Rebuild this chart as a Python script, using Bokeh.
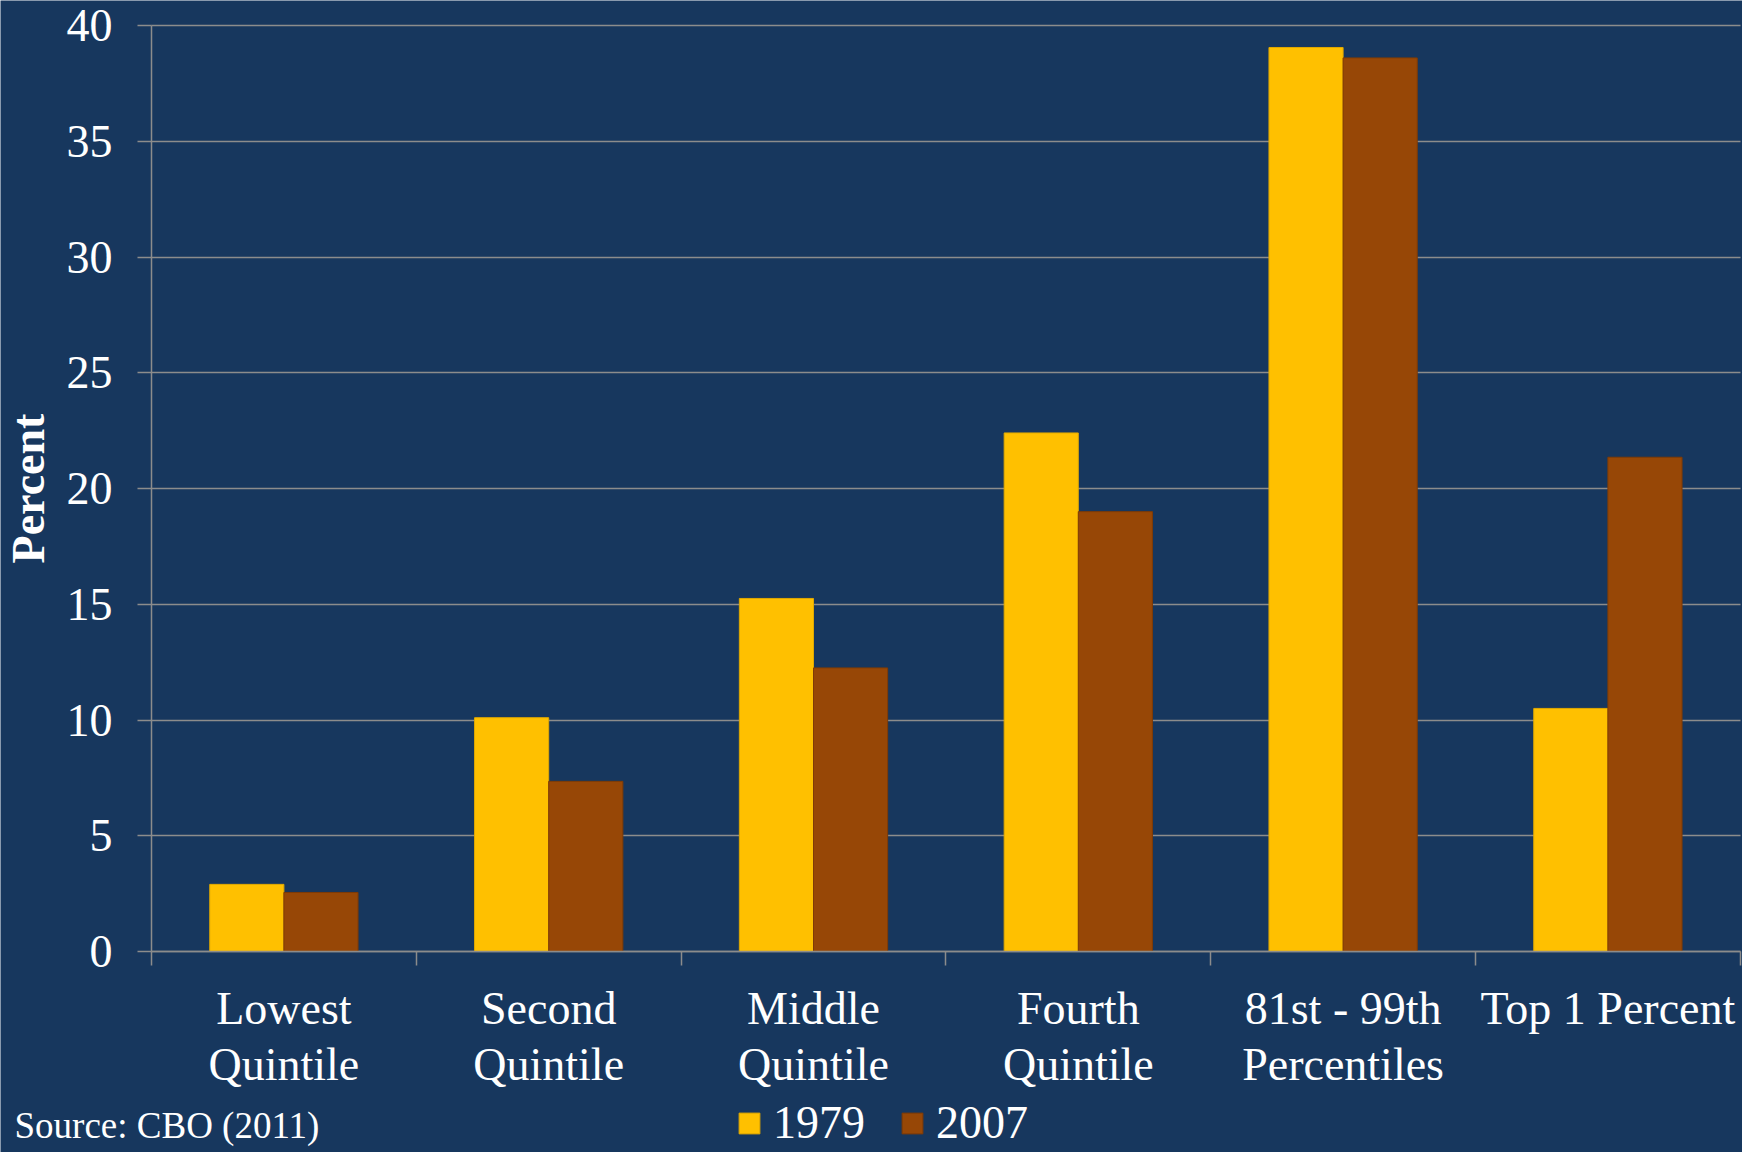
from bokeh.plotting import figure
from bokeh.models import Range1d, FixedTicker, Legend, LegendItem, Label, ColumnDataSource
from bokeh.embed import file_html
from bokeh.resources import INLINE

categories = ["Lowest\nQuintile", "Second\nQuintile", "Middle\nQuintile",
              "Fourth\nQuintile", "81st - 99th\nPercentiles", "Top 1 Percent"]
series_names = ["1979", "2007"]
values_1979 = [2.9, 10.1, 15.25, 22.4, 39.05, 10.5]
values_2007 = [2.55, 7.35, 12.25, 19.0, 38.6, 21.35]
y_ticks = [0, 5, 10, 15, 20, 25, 30, 35, 40]
source_note = "Source: CBO (2011)"

BG = "#17375E"
GRID = "#8C8C8C"
C1979 = "#FFC000"
C2007 = "#974706"
FONT = "Liberation Serif"

W, H = 1742, 1152
n = len(categories)
# pixel layout of the frame (canvas covers everything; axes drawn at fixed locations)
x0_px, x_unit = 151, 264.8
y0_px, y_unit = 951, 23.15

centers = [i + 0.5 for i in range(n)]
bar_w = 0.28
src = ColumnDataSource(dict(
    x1=[c - bar_w / 2 for c in centers],
    x2=[c + bar_w / 2 for c in centers],
    v1=values_1979,
    v2=values_2007,
))

x_range = Range1d(-x0_px / x_unit, (W - x0_px) / x_unit)
y_range = Range1d(-(H - y0_px) / y_unit, y0_px / y_unit)

p = figure(width=W, height=H, x_range=x_range, y_range=y_range,
           output_backend="svg", toolbar_location=None,
           min_border_left=0, min_border_right=0, min_border_top=0, min_border_bottom=0)
p.background_fill_color = BG
p.border_fill_color = BG
p.outline_line_color = None

r1 = p.vbar(x="x1", top="v1", bottom=0, width=bar_w, source=src,
            fill_color=C1979, line_color="#E0A800", line_width=1)
r2 = p.vbar(x="x2", top="v2", bottom=0, width=bar_w, source=src,
            fill_color=C2007, line_color="#7F3B05", line_width=1)

# grid
p.xgrid.visible = False
p.ygrid.ticker = FixedTicker(ticks=y_ticks)
p.ygrid.grid_line_color = GRID
p.ygrid.grid_line_width = 1.5
p.ygrid.cross_bounds = (0, n)

# y axis
ya = p.yaxis[0]
ya.fixed_location = 0
ya.bounds = (0, 40)
ya.ticker = FixedTicker(ticks=y_ticks)
ya.axis_line_color = GRID
ya.axis_line_width = 1.5
ya.major_tick_line_color = GRID
ya.major_tick_line_width = 1.5
ya.major_tick_out = 14
ya.major_tick_in = 0
ya.minor_tick_line_color = None
ya.major_label_text_font = FONT
ya.major_label_text_font_size = "46px"
ya.major_label_text_color = "white"
ya.major_label_standoff = 25
ya.axis_label = "Percent"
ya.axis_label_text_font = FONT
ya.axis_label_text_font_size = "46px"
ya.axis_label_text_font_style = "bold"
ya.axis_label_text_color = "white"
ya.axis_label_standoff = 10

# x axis
xa = p.xaxis[0]
xa.fixed_location = 0
xa.bounds = (0, n)
xa.ticker = FixedTicker(ticks=centers, minor_ticks=list(range(n + 1)))
xa.major_label_overrides = {c: lab for c, lab in zip(centers, categories)}
xa.axis_line_color = GRID
xa.axis_line_width = 1.5
xa.major_tick_line_color = None
xa.major_tick_out = 0
xa.major_tick_in = 0
xa.minor_tick_line_color = GRID
xa.minor_tick_line_width = 1.5
xa.minor_tick_out = 14
xa.minor_tick_in = 0
xa.major_label_text_font = FONT
xa.major_label_text_font_size = "46px"
xa.major_label_text_color = "white"
xa.major_label_text_line_height = 1.1
xa.major_label_standoff = 17

legend = Legend(items=[LegendItem(label=series_names[0], renderers=[r1]),
                       LegendItem(label=series_names[1], renderers=[r2])],
                orientation="horizontal", location=(736, 3),
                glyph_width=26, glyph_height=26, label_standoff=11, spacing=34,
                padding=0, margin=0,
                label_text_font=FONT, label_text_font_size="46px", label_text_color="white",
                background_fill_alpha=0, border_line_alpha=0)
p.add_layout(legend, "center")

note = Label(x=(14 - x0_px) / x_unit, y=(y0_px - 1125) / y_unit, text=source_note,
             text_font=FONT, text_font_size="37px",
             text_color="white", text_align="left", text_baseline="alphabetic")
p.add_layout(note)

open("out.html", "w").write(file_html(p, INLINE))
